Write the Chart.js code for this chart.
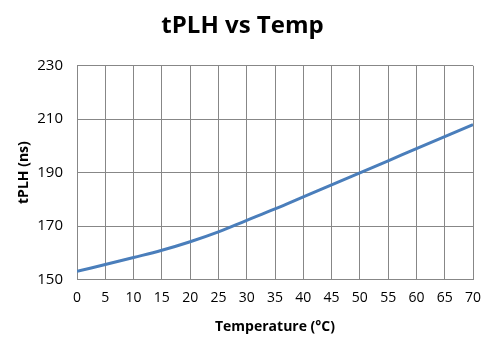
<!DOCTYPE html>
<html>
<head>
<meta charset="utf-8">
<script src="https://cdn.jsdelivr.net/npm/chart.js@4"></script>
<style>
  body { margin: 0; background: #fff; }
  #wrap { width: 499px; height: 350px; }
</style>
</head>
<body>
<div id="wrap"><canvas id="myChart"></canvas></div>
<script>
"use strict";

// data
const temps = [0, 5, 10, 15, 20, 25, 30, 35, 40, 45, 50, 55, 60, 65, 70];
const tplh = [153, 155.6, 158.2, 160.9, 164.1, 167.8, 172.1, 176.4, 180.9, 185.4, 189.9, 194.4, 199, 203.5, 208];
const yTicks = [150, 170, 190, 210, 230];

const font = "'Open Sans', Lato, sans-serif";
const gridColor = "#878787";

const ctx = document.getElementById("myChart");

new Chart(ctx, {
  type: "line",
  data: {
    datasets: [
      {
        label: "tPLH",
        data: temps.map((t, i) => ({ x: t, y: tplh[i] })),
        borderColor: "#4a7ebb",
        backgroundColor: "transparent",
        borderWidth: 3,
        pointRadius: 0,
        tension: 0.4,
      },
    ],
  },
  options: {
    responsive: true,
    maintainAspectRatio: false,
    animation: false,
    layout: {
      padding: { top: 8, right: 26, bottom: 11, left: 12 },
    },
    plugins: {
      legend: { display: false },
      tooltip: { enabled: false },
      title: {
        display: true,
        text: "tPLH vs Temp",
        color: "#000",
        font: { family: font, size: 24, weight: "bold" },
        padding: { top: 4, bottom: 25 },
      },
    },
    scales: {
      x: {
        type: "linear",
        min: 0,
        max: 70,
        afterBuildTicks: (axis) => {
          axis.ticks = temps.map((v) => ({ value: v }));
        },
        grid: { color: gridColor, lineWidth: 1, drawTicks: false },
        border: { color: gridColor },
        ticks: {
          color: "#000",
          padding: 10,
          maxRotation: 0,
          font: { family: font, size: 14 },
        },
        title: {
          display: true,
          text: "Temperature (°C)",
          color: "#000",
          font: { family: font, size: 14, weight: "bold" },
          padding: { top: 2 },
        },
      },
      y: {
        min: 150,
        max: 230,
        afterBuildTicks: (axis) => {
          axis.ticks = yTicks.map((v) => ({ value: v }));
        },
        afterFit: (axis) => {
          axis.width = 65;
        },
        grid: { color: gridColor, lineWidth: 1, drawTicks: false },
        border: { color: gridColor },
        ticks: {
          color: "#000",
          padding: 14,
          font: { family: font, size: 15 },
        },
        title: {
          display: true,
          text: "tPLH (ns)",
          color: "#000",
          font: { family: font, size: 14, weight: "bold" },
          padding: { top: 4, bottom: 4 },
        },
      },
    },
  },
});
</script>
</body>
</html>
